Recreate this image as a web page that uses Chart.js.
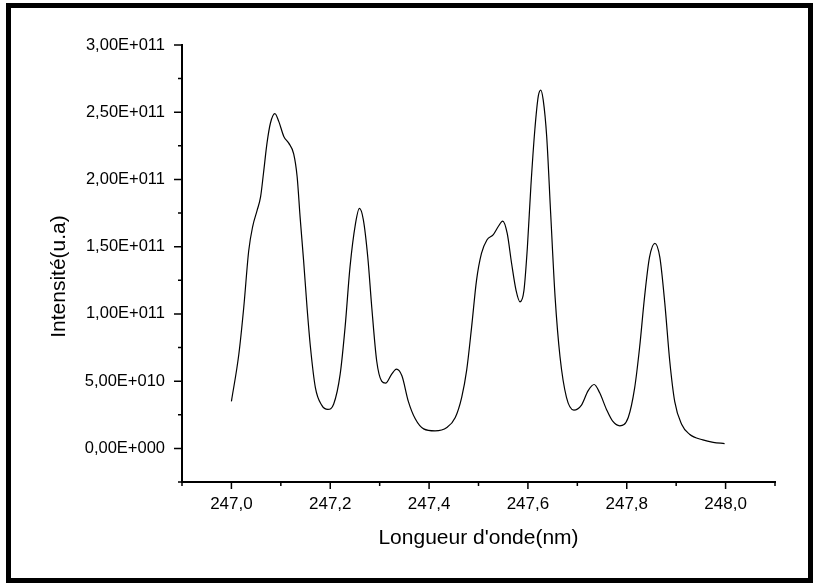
<!DOCTYPE html>
<html>
<head>
<meta charset="utf-8">
<script src="https://cdn.jsdelivr.net/npm/chart.js@4.4.1/dist/chart.umd.min.js"></script>
<style>
  html, body { margin: 0; padding: 0; background: #fff; }
  #wrap { position: relative; width: 814px; height: 583px; }
</style>
</head>
<body>
<div id="wrap"><canvas id="spectre"></canvas></div>
<script>
// Spectre : longueur d'onde (nm) et intensité (u.a)
const wavelengths = [
    247.000, 247.015, 247.025, 247.035, 247.043, 247.052, 247.059, 247.065, 247.072, 247.079,
    247.088, 247.096, 247.106, 247.116, 247.126, 247.133, 247.139, 247.146, 247.153, 247.160,
    247.170, 247.183, 247.195, 247.207, 247.220, 247.230, 247.240, 247.251, 247.259, 247.267,
    247.276, 247.284, 247.294, 247.304, 247.312, 247.324, 247.334, 247.345, 247.358, 247.372,
    247.389, 247.412, 247.436, 247.453, 247.466, 247.476, 247.486, 247.496, 247.506, 247.517,
    247.530, 247.540, 247.549, 247.558, 247.567, 247.576, 247.584, 247.592, 247.599, 247.606,
    247.614, 247.621, 247.626, 247.631, 247.638, 247.646, 247.655, 247.665, 247.678, 247.693,
    247.708, 247.722, 247.734, 247.745, 247.759, 247.772, 247.786, 247.803, 247.816, 247.826,
    247.836, 247.846, 247.857, 247.867, 247.877, 247.887, 247.897, 247.911, 247.927, 247.954,
    247.975, 247.998
];
const intensity = [
    3.5e10, 7.0e10, 1.05e11, 1.47e11, 1.65e11, 1.77e11, 1.87e11, 2.05e11, 2.27e11, 2.42e11,
    2.49e11, 2.43e11, 2.32e11, 2.27e11, 2.19e11, 2.02e11, 1.72e11, 1.40e11, 1.05e11, 7.5e10,
    4.5e10, 3.2e10, 2.9e10, 3.3e10, 5.5e10, 9.0e10, 1.35e11, 1.67e11, 1.785e11, 1.70e11,
    1.42e11, 1.05e11, 6.5e10, 5.0e10, 4.85e10, 5.5e10, 5.9e10, 5.4e10, 3.5e10, 2.2e10,
    1.45e10, 1.3e10, 1.55e10, 2.3e10, 3.8e10, 5.8e10, 9.0e10, 1.25e11, 1.45e11, 1.55e11,
    1.59e11, 1.65e11, 1.69e11, 1.60e11, 1.375e11, 1.175e11, 1.09e11, 1.175e11, 1.50e11, 1.95e11,
    2.37e11, 2.62e11, 2.665e11, 2.59e11, 2.32e11, 1.75e11, 1.125e11, 6.8e10, 3.8e10, 2.85e10,
    3.2e10, 4.3e10, 4.75e10, 4.15e10, 2.9e10, 2.0e10, 1.68e10, 2.3e10, 4.5e10, 7.5e10,
    1.125e11, 1.42e11, 1.525e11, 1.42e11, 1.08e11, 6.5e10, 3.5e10, 1.8e10, 1.05e10, 6.3e9,
    4.5e9, 3.6e9
];

// graduations : une sur deux porte une étiquette (indices impairs)
const xTicks = [246.9, 247.0, 247.1, 247.2, 247.3, 247.4, 247.5, 247.6, 247.7, 247.8, 247.9, 248.0, 248.1];
const yTicks = [-2.5e10, 0, 2.5e10, 5e10, 7.5e10, 1e11, 1.25e11, 1.5e11, 1.75e11, 2e11, 2.25e11, 2.5e11, 2.75e11, 3e11];

const yTitle = 'Intensité(u.a)';
const FONT = "'Liberation Sans', Arial, sans-serif";

// 3.0e11 -> "3,00E+011"
function sciLabel(v) {
    const parts = v.toExponential(2).split('e');
    const exp = parseInt(parts[1], 10);
    const sign = exp < 0 ? '-' : '+';
    return parts[0].replace('.', ',') + 'E' + sign + String(Math.abs(exp)).padStart(3, '0');
}

// cadre noir autour de la figure, graduations (majeures longues, mineures courtes)
// et titre vertical un peu sous le milieu de l'axe
const frameAndTicks = {
    id: 'frameAndTicks',
    beforeDraw(chart) {
        const ctx = chart.ctx;
        ctx.save();
        ctx.fillStyle = '#fff';
        ctx.fillRect(0, 0, chart.width, chart.height);
        ctx.fillStyle = '#000';
        ctx.fillRect(6, 3, 807, 5);
        ctx.fillRect(6, 3, 5, 580);
        ctx.fillRect(808, 3, 5, 580);
        ctx.fillRect(6, 578, 807, 5);
        ctx.restore();
    },
    afterDraw(chart) {
        const ctx = chart.ctx;
        const xs = chart.scales.x, ys = chart.scales.y;
        const area = chart.chartArea;
        ctx.save();
        ctx.strokeStyle = '#000';
        ctx.lineWidth = 1.5;
        ctx.beginPath();
        xs.ticks.forEach((t, i) => {
            const px = xs.getPixelForValue(t.value);
            const len = i % 2 === 1 ? 7 : 4;
            ctx.moveTo(px, area.bottom);
            ctx.lineTo(px, area.bottom + len);
        });
        ys.ticks.forEach((t, i) => {
            const py = ys.getPixelForValue(t.value);
            const len = i % 2 === 1 ? 8 : 4;
            ctx.moveTo(area.left, py);
            ctx.lineTo(area.left - len, py);
        });
        ctx.stroke();

        ctx.translate(59, (area.top + area.bottom) / 2 + 13);
        ctx.rotate(-Math.PI / 2);
        ctx.fillStyle = '#000';
        ctx.font = '21px ' + FONT;
        ctx.textAlign = 'center';
        ctx.textBaseline = 'middle';
        ctx.fillText(yTitle, 0, 0);
        ctx.restore();
    }
};

const points = wavelengths.map((w, i) => ({ x: w, y: intensity[i] }));

new Chart(document.getElementById('spectre'), {
    type: 'line',
    data: {
        datasets: [{
            data: points,
            borderColor: '#000',
            borderWidth: 1.2,
            pointRadius: 0,
            fill: false,
            cubicInterpolationMode: 'monotone'
        }]
    },
    options: {
        responsive: true,
        maintainAspectRatio: false,
        animation: false,
        layout: { padding: { left: 0, top: 45, right: 39, bottom: 0 } },
        plugins: { legend: { display: false }, tooltip: { enabled: false } },
        scales: {
            x: {
                type: 'linear',
                min: xTicks[0],
                max: xTicks[xTicks.length - 1],
                afterBuildTicks: s => { s.ticks = xTicks.map(v => ({ value: v })); },
                afterFit: s => { s.height = 101; },
                grid: { display: false, drawTicks: true, tickLength: 7 },
                border: { display: true, color: '#000', width: 2 },
                ticks: {
                    autoSkip: false,
                    maxRotation: 0,
                    padding: 5,
                    color: '#000',
                    font: { family: FONT, size: 17 },
                    callback: (v, i) => i % 2 === 1 ? v.toFixed(1).replace('.', ',') : ''
                },
                title: {
                    display: true,
                    text: "Longueur d'onde(nm)",
                    color: '#000',
                    font: { family: FONT, size: 21 },
                    padding: { top: 0, bottom: 32 }
                }
            },
            y: {
                min: yTicks[0],
                max: yTicks[yTicks.length - 1],
                afterBuildTicks: s => { s.ticks = yTicks.map(v => ({ value: v })); },
                afterFit: s => { s.width = 182; },
                grid: { display: false, drawTicks: true, tickLength: 8 },
                border: { display: true, color: '#000', width: 2 },
                ticks: {
                    autoSkip: false,
                    padding: 9,
                    color: '#000',
                    font: { family: FONT, size: 16.5 },
                    callback: (v, i) => i % 2 === 1 ? sciLabel(v) : ''
                },
                title: { display: false }
            }
        }
    },
    plugins: [frameAndTicks]
});
</script>
</body>
</html>
